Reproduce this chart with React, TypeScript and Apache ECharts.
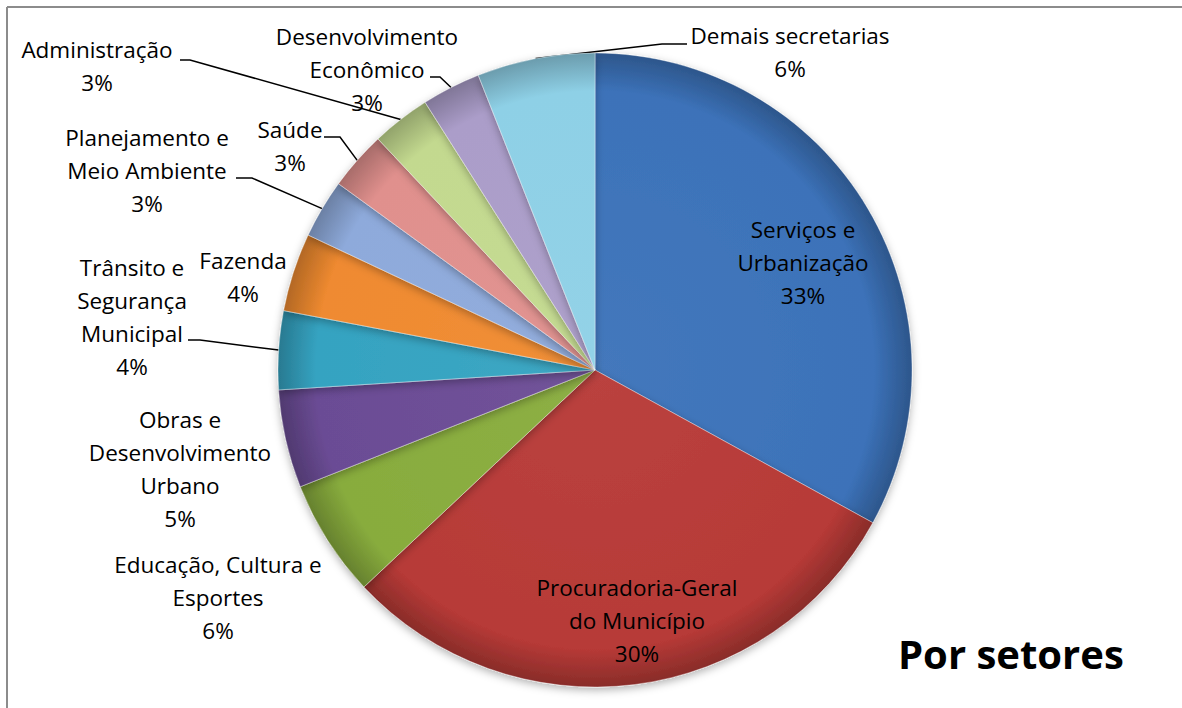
import React, { useEffect, useRef } from "react";
import * as echarts from "echarts";

const categories = [
  "Serviços e\nUrbanização",
  "Procuradoria-Geral\ndo Município",
  "Educação, Cultura e\nEsportes",
  "Obras e\nDesenvolvimento\nUrbano",
  "Trânsito e\nSegurança\nMunicipal",
  "Fazenda",
  "Planejamento e\nMeio Ambiente",
  "Saúde",
  "Administração",
  "Desenvolvimento\nEconômico",
  "Demais secretarias",
];
const shares = [33, 30, 6, 5, 4, 4, 3, 3, 3, 3, 6];
const titleText = "Por setores";

const sliceColors = [
  "#3c72b9",
  "#b73a37",
  "#88ac3d",
  "#6b4c95",
  "#35a3c1",
  "#ef8a30",
  "#8eaadb",
  "#e0908d",
  "#c3d98f",
  "#ab9dc9",
  "#8ed0e6",
];

// label block centres (layout, not data)
const labelAnchors: number[][] = [
  [803, 262],
  [637, 620],
  [218, 597],
  [180, 469],
  [132, 317],
  [243, 277],
  [147, 170],
  [290, 146],
  [97, 66],
  [367, 69],
  [790, 52],
];
// leader line elbow + end (layout)
const leaderEnds: (number[][] | null)[] = [
  null,
  null,
  null,
  null,
  [[200, 340], [188, 340]],
  null,
  [[252, 178], [236, 178]],
  [[340, 137], [324, 137]],
  [[190, 60], [180, 60]],
  [[440, 77], [430, 77]],
  [[662, 44], [687, 44]],
];

const CX = 595;
const CY = 370;
const R = 317;
const FONT = "'Open Sans', 'Noto Sans', sans-serif";

function shade(hex: string, f: number): string {
  const n = parseInt(hex.slice(1), 16);
  let r = (n >> 16) & 255, g = (n >> 8) & 255, b = n & 255;
  if (f < 0) {
    r = Math.round(r * (1 + f)); g = Math.round(g * (1 + f)); b = Math.round(b * (1 + f));
  } else {
    r = Math.round(r + (255 - r) * f); g = Math.round(g + (255 - g) * f); b = Math.round(b + (255 - b) * f);
  }
  return "#" + ((1 << 24) | (r << 16) | (g << 8) | b).toString(16).slice(1);
}

export default function App() {
  const ref = useRef<HTMLDivElement>(null);
  useEffect(() => {
    if (!ref.current) return;
    const chart = echarts.init(ref.current, null, { renderer: "svg" });
    const data = categories.map((name, i) => ({
      name,
      value: shares[i],
      itemStyle: {
        color: {
          type: "radial",
          x: CX,
          y: CY,
          r: R,
          global: true,
          colorStops: [
            { offset: 0, color: shade(sliceColors[i], 0.04) },
            { offset: 0.88, color: sliceColors[i] },
            { offset: 1, color: shade(sliceColors[i], -0.25) },
          ],
        },
      },
      labelLine: { show: leaderEnds[i] != null },
    }));
    chart.setOption({
      animation: false,
      backgroundColor: "#ffffff",
      title: {
        text: titleText,
        left: 893,
        top: 628,
        textStyle: { fontFamily: FONT, fontSize: 40, fontWeight: "bold", color: "#000" },
      },
      graphic: [
        { type: "line", shape: { x1: 7, y1: 7, x2: 1182, y2: 7 }, style: { stroke: "#8c8c8c", lineWidth: 2 } },
        { type: "line", shape: { x1: 7, y1: 7, x2: 7, y2: 708 }, style: { stroke: "#8c8c8c", lineWidth: 2 } },
      ],
      series: [
        {
          type: "pie",
          center: [CX, CY],
          radius: R,
          startAngle: 90,
          clockwise: true,
          avoidLabelOverlap: false,
          itemStyle: {
            borderColor: "rgba(255,255,255,0.35)",
            borderWidth: 1,
            shadowBlur: 8,
            shadowOffsetY: 3,
            shadowColor: "rgba(0,0,0,0.3)",
          },
          label: {
            show: true,
            position: "outside",
            formatter: (p: any) => `${p.name}\n${Math.round(p.percent)}%`,
            fontFamily: FONT,
            fontSize: 22.5,
            lineHeight: 33,
            color: "#000",
            align: "center",
          },
          labelLine: {
            show: true,
            length: 10,
            length2: 10,
            lineStyle: { color: "#000", width: 1.5 },
          },
          labelLayout: (params: any) => {
            const i = params.dataIndex;
            const a = labelAnchors[i];
            const res: any = { x: a[0], y: a[1], align: "center", verticalAlign: "middle" };
            const ends = leaderEnds[i];
            if (ends && params.labelLinePoints && params.labelLinePoints[0]) {
              res.labelLinePoints = [params.labelLinePoints[0], ends[0], ends[1]];
            }
            return res;
          },
          emphasis: { disabled: true },
          data,
        },
      ],
    });
    return () => chart.dispose();
  }, []);
  return (
    <div
      ref={ref}
      style={{ position: "fixed", left: 0, top: 0, width: 1182, height: 708 }}
    />
  );
}
